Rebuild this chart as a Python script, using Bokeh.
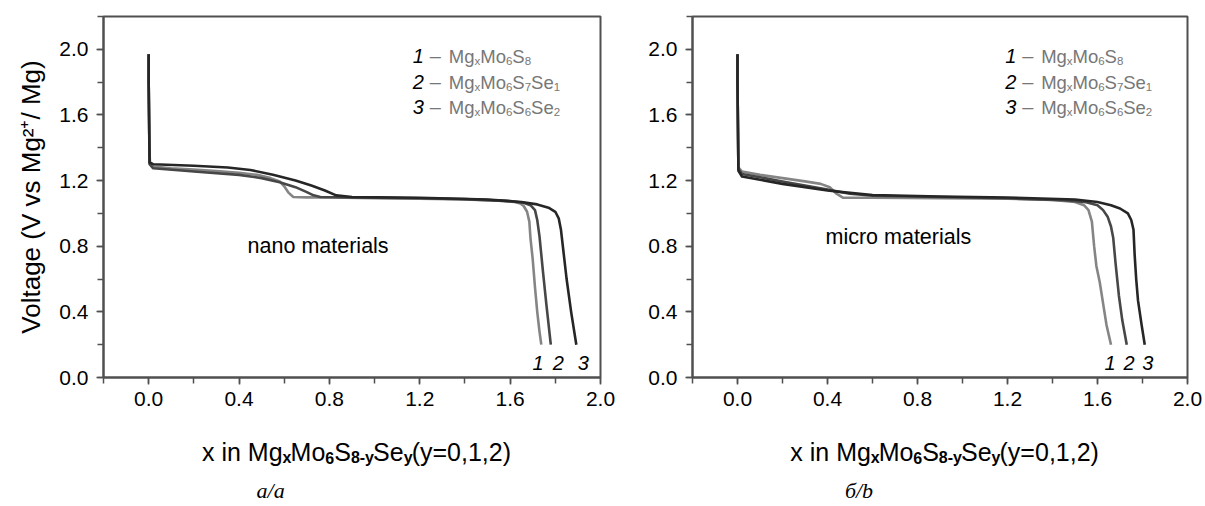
from bokeh.plotting import figure
from bokeh.models import Label, SingleIntervalTicker, PrintfTickFormatter, Range1d
from bokeh.layouts import row, column
from bokeh.embed import file_html
from bokeh.resources import INLINE

# ---------------- data ----------------
# nano materials (panel a)
nano_x1 = [0.0, 0.0, 0.003, 0.006, 0.02, 0.1, 0.2, 0.3, 0.4, 0.48, 0.54, 0.58, 0.60, 0.62, 0.64, 0.70, 0.80, 1.0, 1.2, 1.4, 1.55, 1.62, 1.645, 1.66, 1.675, 1.685, 1.69, 1.70, 1.71, 1.72, 1.73, 1.738]
nano_y1 = [1.97, 1.80, 1.40, 1.30, 1.285, 1.275, 1.267, 1.258, 1.248, 1.235, 1.215, 1.195, 1.165, 1.125, 1.10, 1.098, 1.097, 1.093, 1.09, 1.085, 1.078, 1.07, 1.06, 1.045, 1.01, 0.95, 0.85, 0.72, 0.55, 0.40, 0.28, 0.20]
nano_x2 = [0.0, 0.0, 0.004, 0.02, 0.2, 0.4, 0.5, 0.58, 0.65, 0.70, 0.73, 0.76, 0.9, 1.2, 1.4, 1.6, 1.66, 1.69, 1.71, 1.72, 1.73, 1.745, 1.76, 1.78]
nano_y2 = [1.97, 1.80, 1.30, 1.275, 1.255, 1.235, 1.215, 1.19, 1.16, 1.13, 1.11, 1.10, 1.098, 1.092, 1.087, 1.075, 1.065, 1.05, 1.02, 0.96, 0.86, 0.65, 0.45, 0.20]
nano_x3 = [0.0, 0.0, 0.004, 0.02, 0.2, 0.35, 0.45, 0.55, 0.65, 0.72, 0.78, 0.83, 0.9, 1.2, 1.5, 1.65, 1.72, 1.77, 1.80, 1.815, 1.825, 1.835, 1.85, 1.87, 1.893]
nano_y3 = [1.97, 1.80, 1.31, 1.30, 1.29, 1.28, 1.265, 1.235, 1.20, 1.17, 1.14, 1.11, 1.10, 1.095, 1.085, 1.07, 1.055, 1.035, 1.01, 0.97, 0.90, 0.78, 0.60, 0.40, 0.20]

# micro materials (panel b)
micro_x1 = [0.0, 0.0, 0.004, 0.02, 0.1, 0.2, 0.3, 0.37, 0.41, 0.44, 0.47, 0.6, 0.9, 1.2, 1.4, 1.5, 1.54, 1.56, 1.575, 1.585, 1.595, 1.61, 1.625, 1.64, 1.66]
micro_y1 = [1.97, 1.80, 1.28, 1.255, 1.235, 1.215, 1.195, 1.18, 1.16, 1.12, 1.095, 1.095, 1.093, 1.09, 1.082, 1.07, 1.05, 1.02, 0.95, 0.80, 0.68, 0.58, 0.45, 0.32, 0.20]
micro_x2 = [0.0, 0.0, 0.004, 0.02, 0.1, 0.2, 0.3, 0.4, 0.5, 0.6, 0.9, 1.2, 1.45, 1.55, 1.60, 1.625, 1.645, 1.66, 1.67, 1.68, 1.695, 1.71, 1.73]
micro_y2 = [1.97, 1.80, 1.27, 1.24, 1.22, 1.195, 1.17, 1.145, 1.12, 1.108, 1.10, 1.092, 1.08, 1.068, 1.05, 1.02, 0.98, 0.92, 0.85, 0.70, 0.50, 0.35, 0.20]
micro_x3 = [0.0, 0.0, 0.004, 0.02, 0.1, 0.2, 0.3, 0.4, 0.5, 0.6, 0.9, 1.2, 1.5, 1.6, 1.66, 1.70, 1.735, 1.75, 1.76, 1.765, 1.772, 1.78, 1.795, 1.81]
micro_y3 = [1.97, 1.80, 1.26, 1.225, 1.205, 1.18, 1.16, 1.14, 1.125, 1.112, 1.103, 1.097, 1.085, 1.07, 1.05, 1.03, 1.00, 0.96, 0.90, 0.75, 0.60, 0.47, 0.33, 0.20]

curve_numbers = ["1", "2", "3"]
legend_formulas = [
    [("Mg", 0), ("x", 1), ("Mo", 0), ("6", 1), ("S", 0), ("8", 1)],
    [("Mg", 0), ("x", 1), ("Mo", 0), ("6", 1), ("S", 0), ("7", 1), ("Se", 0), ("1", 1)],
    [("Mg", 0), ("x", 1), ("Mo", 0), ("6", 1), ("S", 0), ("6", 1), ("Se", 0), ("2", 1)],
]
xtitle_parts = [("x in Mg", 0), ("x", 1), ("Mo", 0), ("6", 1), ("S", 0), ("8-y", 1), ("Se", 0), ("y", 1), ("(y=0,1,2)", 0)]
ytitle = "Voltage (V vs Mg²⁺/ Mg)"
notes = ["nano materials", "micro materials"]
tags = ["a/a", "б/b"]
nano_end_x = [1.724, 1.813, 1.924]
micro_end_x = [1.656, 1.740, 1.824]

curve_colors = ["#858585", "#474747", "#262626"]
FONT = "Liberation Sans"
TOP_H = 412      # plot part height
BOT_H = 506 - TOP_H

# Arial-like advance widths (per 1000 em) for layout of rich text pieces
W = {' ': 278, 'x': 500, 'i': 222, 'n': 556, 'M': 833, 'g': 556, 'o': 556, 'S': 667,
     'e': 556, '(': 333, ')': 333, 'y': 500, '=': 584, ',': 278, '-': 333}


def tw(s, size):
    return sum(W.get(c, 556) for c in s) * size / 1000.0


def rich(p, x, y_base, parts, sxu, syu, size, sub_size, sub_drop, color, sub_bold, align="left"):
    total = sum(tw(t, sub_size if s else size) for t, s in parts)
    cx = x - total / 2 / sxu if align == "center" else x
    for t, s in parts:
        sz = sub_size if s else size
        p.add_layout(Label(x=cx, y=y_base - (sub_drop / syu if s else 0), text=t,
                           text_font=FONT, text_font_size=f"{sz}px",
                           text_font_style="bold" if (s and sub_bold) else "normal",
                           text_color=color, text_baseline="alphabetic", text_align="left"))
        cx += tw(t, sz) / sxu


def panel(width, bl, br, curves, note, note_xy, tag, end_x, legend_x, ylabel):
    p = figure(width=width, height=TOP_H, x_range=Range1d(-0.2, 2.0), y_range=Range1d(0, 2.2),
               output_backend="svg", toolbar_location=None,
               min_border_left=bl, min_border_right=br, min_border_top=16,
               min_border_bottom=TOP_H - 377)
    p.grid.visible = False
    p.background_fill_color = "white"
    p.border_fill_color = "white"
    p.outline_line_color = "#505050"
    p.outline_line_width = 2
    for ax in (p.xaxis[0], p.yaxis[0]):
        ax.ticker = SingleIntervalTicker(interval=0.4, num_minor_ticks=2)
        ax.formatter = PrintfTickFormatter(format="%.1f")
        ax.axis_line_color = "#505050"
        ax.axis_line_width = 2
        ax.major_tick_line_color = "#505050"
        ax.major_tick_line_width = 1.5
        ax.minor_tick_line_color = "#505050"
        ax.minor_tick_line_width = 1.5
        ax.major_tick_in = 0
        ax.major_tick_out = 7
        ax.minor_tick_in = 0
        ax.minor_tick_out = 6
        ax.major_label_text_font = FONT
        ax.major_label_text_font_size = "21px"
        ax.major_label_text_color = "black"
    p.xaxis.major_label_standoff = 7
    p.yaxis.major_label_standoff = 8
    if ylabel:
        p.yaxis.axis_label = ylabel
        p.yaxis.axis_label_text_font = FONT
        p.yaxis.axis_label_text_font_size = "26px"
        p.yaxis.axis_label_text_font_style = "normal"
        p.yaxis.axis_label_text_color = "black"
        p.yaxis.axis_label_standoff = 10

    frame_w = width - bl - br
    sxu = frame_w / 2.2
    syu = 361 / 2.2

    for (xs, ys), col in zip(curves, curve_colors):
        p.line(xs, ys, line_color=col, line_width=2.6, line_join="round")

    # legend block
    row_y = [(377 - 49) / syu, (377 - 75) / syu, (377 - 100) / syu]
    for i, (num, parts) in enumerate(zip(curve_numbers, legend_formulas)):
        yb = row_y[i] - 6.5 / syu
        p.add_layout(Label(x=legend_x, y=yb, text=num, text_font=FONT, text_font_size="20px",
                           text_font_style="italic", text_color="black",
                           text_baseline="alphabetic", text_align="left"))
        p.add_layout(Label(x=legend_x + 17 / sxu, y=yb, text="–", text_font=FONT,
                           text_font_size="20px", text_color="#777777",
                           text_baseline="alphabetic", text_align="left"))
        rich(p, legend_x + 36 / sxu, yb, parts, sxu, syu, 18.5, 11.5, 5, "#777777", False)

    # curve end numbers
    for num, ex in zip(curve_numbers, end_x):
        p.add_layout(Label(x=ex, y=0.09, text=num, text_font=FONT, text_font_size="20px",
                           text_font_style="italic", text_color="black",
                           text_baseline="middle", text_align="center"))

    # annotation
    p.add_layout(Label(x=note_xy[0], y=note_xy[1], text=note, text_font=FONT, text_font_size="21.5px",
                       text_color="black", text_baseline="middle", text_align="center"))

    # bottom strip with x-axis title and panel tag (shares x range)
    b = figure(width=width, height=BOT_H, x_range=p.x_range, y_range=Range1d(0, BOT_H),
               output_backend="svg", toolbar_location=None, x_axis_type=None, y_axis_type=None,
               min_border_left=bl, min_border_right=br, min_border_top=0, min_border_bottom=0)
    b.grid.visible = False
    b.outline_line_color = None
    b.background_fill_color = "white"
    b.border_fill_color = "white"
    rich(b, 0.92, BOT_H - (451 - TOP_H), xtitle_parts, sxu, 1, 25, 16, 6, "black", True, align="center")
    b.add_layout(Label(x=0.54, y=BOT_H - (490 - TOP_H), text=tag, text_font="Liberation Serif",
                       text_font_size="22px", text_font_style="italic", text_color="black",
                       text_baseline="middle", text_align="center"))
    return column(p, b)


c1 = panel(645, 103, 45,
           [(nano_x1, nano_y1), (nano_x2, nano_y2), (nano_x3, nano_y3)],
           notes[0], (0.75, 0.80), tags[0], nano_end_x, 1.169, ytitle)
c2 = panel(560, 46, 18,
           [(micro_x1, micro_y1), (micro_x2, micro_y2), (micro_x3, micro_y3)],
           notes[1], (0.715, 0.857), tags[1], micro_end_x, 1.19, None)

layout = row(c1, c2)
open("out.html", "w").write(file_html(layout, INLINE))
